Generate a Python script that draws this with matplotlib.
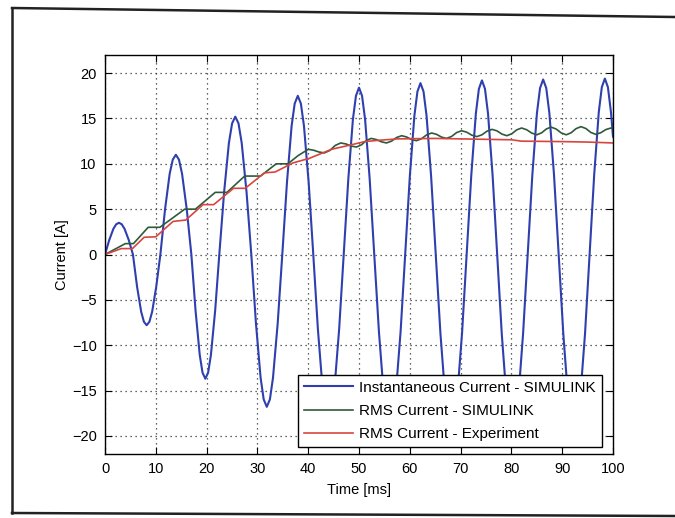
import matplotlib
matplotlib.use("Agg")
import matplotlib.pyplot as plt
from matplotlib.lines import Line2D

plt.rcParams['font.family'] = ['Liberation Sans', 'DejaVu Sans']

# instantaneous current (SIMULINK), ms / A
inst_t = [0, 0.83, 1.65, 2.2, 2.75, 3.3, 3.85, 4.68,
          5.5, 6.31, 7.12, 7.66, 8.2, 8.74, 9.28, 10.09,
          10.9, 11.82, 12.73, 13.34, 13.95, 14.56, 15.17, 16.09,
          17.0, 17.83, 18.65, 19.2, 19.75, 20.3, 20.85, 21.68,
          22.5, 23.45, 24.39, 25.02, 25.65, 26.28, 26.91, 27.86,
          28.8, 29.72, 30.63, 31.24, 31.85, 32.46, 33.07, 33.99,
          34.9, 35.82, 36.73, 37.34, 37.95, 38.56, 39.17, 40.09,
          41.0, 41.9, 42.8, 43.4, 44.0, 44.6, 45.2, 46.1,
          47.0, 47.9, 48.8, 49.4, 50.0, 50.6, 51.2, 52.1,
          53.0, 53.92, 54.83, 55.44, 56.05, 56.66, 57.27, 58.19,
          59.1, 60.0, 60.9, 61.5, 62.1, 62.7, 63.3, 64.2,
          65.1, 66.02, 66.93, 67.54, 68.15, 68.76, 69.37, 70.29,
          71.2, 72.1, 73.0, 73.6, 74.2, 74.8, 75.4, 76.3,
          77.2, 78.1, 79.0, 79.6, 80.2, 80.8, 81.4, 82.3,
          83.2, 84.12, 85.03, 85.64, 86.25, 86.86, 87.47, 88.39,
          89.3, 90.22, 91.13, 91.74, 92.35, 92.96, 93.57, 94.49,
          95.4, 96.3, 97.2, 97.8, 98.4, 99.0, 99.6, 100.0]
inst_i = [0, 1.59, 2.83, 3.33, 3.5, 3.33, 2.83, 1.59,
          0, -3.54, -6.31, -7.42, -7.8, -7.42, -6.31, -3.54,
          0, 4.99, 8.90, 10.46, 11.0, 10.46, 8.90, 4.99,
          0, -6.22, -11.08, -13.03, -13.7, -13.03, -11.08, -6.22,
          0, 6.90, 12.30, 14.46, 15.2, 14.46, 12.30, 6.90,
          0, -7.63, -13.59, -15.98, -16.8, -15.98, -13.59, -7.63,
          0, 7.95, 14.16, 16.64, 17.5, 16.64, 14.16, 7.95,
          0, -8.17, -14.56, -17.12, -18.0, -17.12, -14.56, -8.17,
          0, 8.35, 14.89, 17.50, 18.4, 17.50, 14.89, 8.35,
          0, -8.49, -15.13, -17.78, -18.7, -17.78, -15.13, -8.49,
          0, 8.58, 15.29, 17.97, 18.9, 17.97, 15.29, 8.58,
          0, -8.63, -15.37, -18.07, -19.0, -18.07, -15.37, -8.63,
          0, 8.72, 15.53, 18.26, 19.2, 18.26, 15.53, 8.72,
          0, -8.72, -15.53, -18.26, -19.2, -18.26, -15.53, -8.72,
          0, 8.76, 15.61, 18.35, 19.3, 18.35, 15.61, 8.76,
          0, -8.76, -15.61, -18.35, -19.3, -18.35, -15.61, -8.76,
          0, 8.81, 15.69, 18.45, 19.4, 18.45, 15.69, 13.0]

# RMS current (SIMULINK)
rms_sim_t = [0, 4.0, 5.6, 8.5, 10.8, 15.7, 17.8, 21.7, 24.0, 27.5, 30.6, 33.7, 36.0, 38.0,
             40.0, 41.07, 42.13, 43.2, 44.27, 45.33, 46.4, 47.43, 48.47, 49.5,
             50.47, 51.43, 52.4, 53.4, 54.4, 55.4, 56.4, 57.4, 58.4, 59.37, 60.33,
             61.3, 62.3, 63.3, 64.3, 65.27, 66.23, 67.2, 68.2, 69.2, 70.2, 71.2, 72.2,
             73.2, 74.2, 75.2, 76.2, 77.17, 78.13, 79.1, 80.07, 81.03, 82.0, 83.0, 84.0,
             85.0, 85.93, 86.87, 87.8, 88.8, 89.8, 90.8, 91.77, 92.73, 93.7, 94.67, 95.63,
             96.6, 97.6, 98.6, 99.6, 100.0]
rms_sim_i = [0, 1.2, 1.2, 3.0, 3.0, 5.0, 5.0, 6.85, 6.85, 8.65, 8.65, 10.0, 10.0, 10.9,
             11.6, 11.5, 11.3, 11.2, 11.48, 12.03, 12.3, 12.19, 11.96, 11.85,
             12.09, 12.56, 12.8, 12.68, 12.43, 12.3, 12.5, 12.9, 13.1, 12.96, 12.69,
             12.55, 12.76, 13.19, 13.4, 13.25, 12.95, 12.8, 13.01, 13.44, 13.65, 13.49, 13.16,
             13.0, 13.2, 13.6, 13.8, 13.63, 13.28, 13.1, 13.31, 13.74, 13.95, 13.76, 13.39,
             13.2, 13.41, 13.84, 14.05, 13.84, 13.41, 13.2, 13.43, 13.88, 14.1, 13.89, 13.46,
             13.25, 13.43, 13.78, 13.95, 13.93]

# RMS current (experiment)
rms_exp_t = [0, 3.2, 5.4, 7.7, 10.0, 13.4, 15.9, 19.3, 21.4, 25.3, 27.6, 31.4, 33.5,
             37.0, 40.2, 44.6, 48.5, 51.1, 54.0, 57.6, 65.0, 70.0, 75.0, 80.0, 82.0,
             90.0, 95.0, 100.0]
rms_exp_i = [0, 0.65, 0.65, 1.9, 1.95, 3.65, 3.8, 5.5, 5.5, 7.3, 7.3, 9.0, 9.1,
             10.1, 10.6, 11.6, 12.1, 12.45, 12.6, 12.75, 12.8, 12.75, 12.7, 12.65, 12.5,
             12.45, 12.4, 12.3]

labels = ["Instantaneous Current - SIMULINK", "RMS Current - SIMULINK", "RMS Current - Experiment"]

fig = plt.figure(figsize=(6.75, 5.18), dpi=100)
W, H = 675.0, 518.0
ax = fig.add_axes([105 / W, 1 - 454 / H, 508 / W, 399 / H])

ax.plot(inst_t, inst_i, color="#2f3fae", lw=1.5, label=labels[0])
ax.plot(rms_sim_t, rms_sim_i, color="#2d5a3a", lw=1.2, label=labels[1])
ax.plot(rms_exp_t, rms_exp_i, color="#d8453f", lw=1.2, label=labels[2])

ax.set_xlim(0, 100)
ax.set_ylim(-22, 22)
ax.set_xticks(range(0, 101, 10))
ax.set_yticks(range(-20, 21, 5))
ax.tick_params(direction="in", top=True, right=True, length=5, labelsize=10.5, pad=6)
ax.grid(True, color="#333333", linestyle=(0, (1, 3)), linewidth=0.9)
for s in ax.spines.values():
    s.set_linewidth(1.0)

ax.set_xlabel("Time [ms]", fontsize=10.5, labelpad=5)
ax.set_ylabel("Current [A]", fontsize=10.5, labelpad=2)

leg = ax.legend(loc="lower right", bbox_to_anchor=(0.978, 0.017), borderaxespad=0,
                fontsize=11, fancybox=False, framealpha=1, edgecolor="black",
                handlelength=3.2, handletextpad=0.4, labelspacing=0.6,
                borderpad=0.4)
leg.get_frame().set_linewidth(1.0)

# scanned page frame
def px(x, y):
    return x / W, 1 - y / H

for (x0, y0), (x1, y1) in [((12, 8), (675, 17)), ((12, 8), (12, 513)), ((12, 513), (675, 516))]:
    a, b = px(x0, y0)
    c, d = px(x1, y1)
    fig.add_artist(Line2D([a, c], [b, d], color="#222222", lw=1.8))

plt.savefig("out.png", dpi=100)
